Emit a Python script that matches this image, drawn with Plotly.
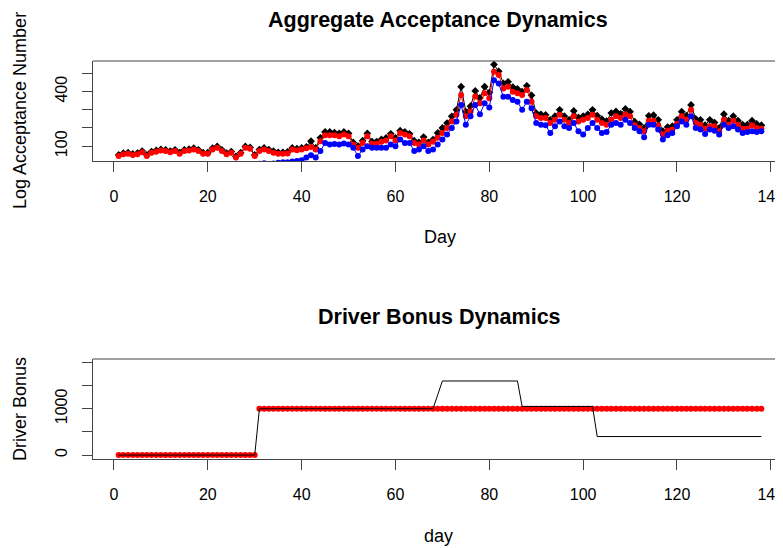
import plotly.graph_objects as go

days = list(range(1, 139))

black_acc = [52,61,64,57,61,73,52,70,76,82, 80,73,80,64,80,83,89,80,64,64,
             89,98,80,61,70,43,64,98,93,52, 81,90,81,72,66,66,68,90,86,90,
             96,127,90,146,178,178,175,170,178,170, 120,100,130,170,125,125,137,145,168,145,
             185,178,168,130,120,150,120,136,173,200, 227,264,300,427,290,320,404,365,427,395,
             549,512,445,454,425,415,400,432,380,282, 275,272,245,265,300,265,245,294,258,265,
             275,300,268,248,238,282,291,278,305,290, 235,220,200,267,270,245,182,205,210,245,
             290,268,327,250,245,215,245,230,200,276, 240,265,240,218,218,240,222,215]

red_acc = [46,55,58,51,55,67,46,64,69,76, 73,67,73,58,73,76,82,73,58,58,
           82,91,73,55,64,37,58,91,86,46, 73,82,73,64,58,58,60,82,78,82,
           88,95,82,127,160,160,160,155,164,155, 109,91,118,155,113,113,124,131,155,131,
           173,164,155,118,109,131,109,124,146,173, 200,236,273,382,264,291,373,336,391,364,
           509,491,418,427,400,391,382,409,345,264, 255,255,227,245,273,245,227,264,236,245,
           255,273,245,227,218,245,264,255,276,264, 215,200,182,240,240,215,164,185,191,222,
           264,245,300,227,218,196,209,209,182,245, 218,240,218,196,196,215,200,196]

blue_acc = [0,0,0,0,0,0,0,0,0,0, 0,0,0,0,0,0,0,0,0,0,
            0,0,0,0,0,0,0,0,0,0, 3,6,2,4,8,12,12,15,18,22,
            37,50,37,73,118,109,112,109,115,109, 91,46,82,100,91,91,91,91,109,100,
            136,118,118,73,82,100,73,82,109,136, 164,200,236,327,218,264,327,276,336,313,
            463,445,372,372,354,345,300,345,309,227, 218,215,173,209,236,209,200,227,182,164,
            200,227,200,173,178,218,227,218,245,227, 200,182,149,218,218,191,136,160,173,209,
            236,218,264,200,191,167,191,185,164,218, 200,209,191,173,178,182,178,182]

bonus_red = [0]*30 + [1000]*108
bonus_black = [0]*30 + [1000]*38 + [1300] + [1600]*17 + [1050]*16 + [400]*36

x_ticks = [0, 20, 40, 60, 80, 100, 120, 140]
y1_ticks = [100, 200, 300, 400, 500]
y1_text = ["100", "", "", "400", ""]
y2_ticks = [0, 500, 1000, 1500, 2000]
y2_text = ["0", "", "1000", "", ""]

FONT = "Liberation Sans, Arial, sans-serif"
AX = "#444444"

# page body has an 8px default margin; figure is sized to end at the window edge
OFF = 8
W, H = 783 - OFF, 548 - OFF
L = 93 - OFF

fig = go.Figure()
fig.add_trace(go.Scatter(x=days, y=black_acc, mode="lines+markers",
                         line=dict(color="black", width=1),
                         marker=dict(symbol="diamond", size=6, color="black"),
                         xaxis="x", yaxis="y"))
fig.add_trace(go.Scatter(x=days, y=red_acc, mode="lines+markers",
                         line=dict(color="red", width=1),
                         marker=dict(symbol="circle", size=6, color="red"),
                         xaxis="x", yaxis="y"))
fig.add_trace(go.Scatter(x=days, y=blue_acc, mode="lines+markers",
                         line=dict(color="blue", width=1),
                         marker=dict(symbol="circle", size=6, color="blue"),
                         xaxis="x", yaxis="y"))
fig.add_trace(go.Scatter(x=days, y=bonus_red, mode="markers",
                         marker=dict(symbol="circle", size=6, color="red"),
                         xaxis="x2", yaxis="y2"))
fig.add_trace(go.Scatter(x=days, y=bonus_black, mode="lines",
                         line=dict(color="black", width=1),
                         xaxis="x2", yaxis="y2"))

def py(y):
    return 1 - (y - OFF) / float(H)

def px(x):
    return (x - 93) / 690.0

def dom(top, bottom):
    return [py(bottom), py(top)]

xcommon = dict(range=[-4.47, 142.6], tickvals=x_ticks, ticks="outside", ticklen=10,
               tickcolor=AX, tickwidth=1, showgrid=False, zeroline=False,
               showline=True, linecolor=AX, linewidth=1, ticklabelstandoff=11,
               ticklabeloverflow="allow",
               tickfont=dict(family=FONT, size=16, color="black"))
ycommon = dict(ticks="outside", ticklen=10, tickcolor=AX, tickwidth=1,
               showgrid=False, zeroline=False, showline=True, linecolor=AX, linewidth=1,
               tickangle=-90, ticklabelstandoff=9,
               tickfont=dict(family=FONT, size=16, color="black"))

fig.update_layout(
    width=W, height=H,
    margin=dict(l=L, r=0, t=0, b=0),
    paper_bgcolor="white", plot_bgcolor="white",
    showlegend=False,
    xaxis=dict(domain=[0, 1], anchor="y", **xcommon),
    yaxis=dict(domain=dom(61, 161), anchor="x", range=[18.3, 568.7],
               tickvals=y1_ticks, ticktext=y1_text, **ycommon),
    xaxis2=dict(domain=[0, 1], anchor="y2", **xcommon),
    yaxis2=dict(domain=dom(359, 459), anchor="x2", range=[-85, 2075],
                tickvals=y2_ticks, ticktext=y2_text, **ycommon),
)

for xr, yr in [("x", "y"), ("x2", "y2")]:
    fig.add_shape(type="line", xref=xr + " domain", yref=yr + " domain",
                  x0=0, x1=1, y0=1, y1=1, line=dict(color=AX, width=1))

def ann(text, x, y, size=18, bold=False, angle=0):
    fig.add_annotation(text=("<b>%s</b>" % text) if bold else text,
                       x=px(x), y=py(y), xref="paper", yref="paper",
                       showarrow=False, textangle=angle, xanchor="center", yanchor="middle",
                       font=dict(family=FONT, size=size, color="black"))

ann("Aggregate Acceptance Dynamics", 438, 20, size=21.5, bold=True)
ann("Driver Bonus Dynamics", 440, 317, size=21.5, bold=True)
ann("Day", 440, 237)
ann("day", 438, 536)
ann("Log Acceptance Number", 20, 111, angle=-90)
ann("Driver Bonus", 20, 409, angle=-90)

fig.write_html("out.html")
